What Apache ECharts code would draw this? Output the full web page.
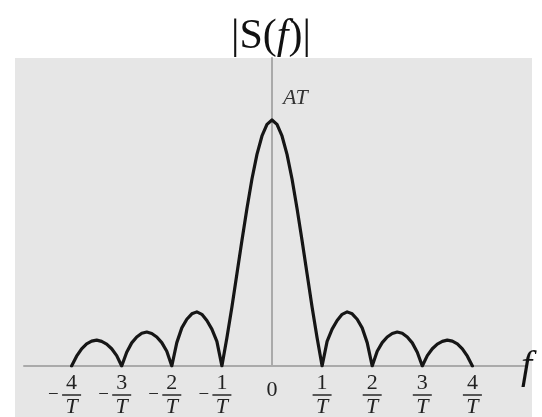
<!DOCTYPE html>
<html>
<head>
<meta charset="utf-8">
<script src="https://cdn.jsdelivr.net/npm/echarts@6/dist/echarts.min.js"></script>
<style>
html,body{margin:0;padding:0;background:#fff;}
#c{width:542px;height:417px;}
</style>
</head>
<body>
<div id="c"></div>
<script>
// Frequency samples (in units of 1/T)
const freqs = [
 -4.0,-3.9,-3.8,-3.7,-3.6,-3.5,-3.4,-3.3,-3.2,-3.1,
 -3.0,-2.9,-2.8,-2.7,-2.6,-2.5,-2.4,-2.3,-2.2,-2.1,
 -2.0,-1.9,-1.8,-1.7,-1.6,-1.5,-1.4,-1.3,-1.2,-1.1,
 -1.0,-0.9,-0.8,-0.7,-0.6,-0.5,-0.4,-0.3,-0.2,-0.1,
  0.0,
  0.1, 0.2, 0.3, 0.4, 0.5, 0.6, 0.7, 0.8, 0.9, 1.0,
  1.1, 1.2, 1.3, 1.4, 1.5, 1.6, 1.7, 1.8, 1.9, 2.0,
  2.1, 2.2, 2.3, 2.4, 2.5, 2.6, 2.7, 2.8, 2.9, 3.0,
  3.1, 3.2, 3.3, 3.4, 3.5, 3.6, 3.7, 3.8, 3.9, 4.0
];
// |S(f)| (peak AT = 1)
const magnitude = [
 0.000,0.040,0.070,0.090,0.101,0.105,0.100,0.089,0.070,0.042,
 0.000,0.056,0.094,0.118,0.133,0.138,0.132,0.118,0.095,0.060,
 0.000,0.095,0.155,0.190,0.212,0.220,0.210,0.185,0.150,0.100,
 0.000,0.115,0.240,0.375,0.510,0.640,0.760,0.860,0.935,0.982,
 1.000,
 0.982,0.935,0.860,0.760,0.640,0.510,0.375,0.240,0.115,0.000,
 0.100,0.150,0.185,0.210,0.220,0.212,0.190,0.155,0.095,0.000,
 0.060,0.095,0.118,0.132,0.138,0.133,0.118,0.094,0.056,0.000,
 0.042,0.070,0.089,0.100,0.105,0.101,0.090,0.070,0.040,0.000
];
const tickValues = [-4,-3,-2,-1,0,1,2,3,4];
const tickLabels = ['-4/T','-3/T','-2/T','-1/T','0','1/T','2/T','3/T','4/T'];
const titleText = '|S(f)|';
const peakLabel = 'AT';
const axisName = 'f';

const serif = '"Liberation Serif", "DejaVu Serif", serif';
const chart = echarts.init(document.getElementById('c'), null, {renderer:'canvas'});

function fmt(v){
  const i = tickValues.indexOf(Math.round(v));
  if (i < 0) return '';
  const s = tickLabels[i];
  if (s.indexOf('/') < 0) return '{zero|' + s + '}';
  const neg = s[0] === '-';
  const parts = s.replace('-', '').split('/');
  if (neg) {
    return '{sp| }{num|' + parts[0] + '}{sp| }\n{mi|\u2212}{bar| }{sp| }\n{sp| }{den|' + parts[1] + '}{sp| }';
  }
  return '{num|' + parts[0] + '}\n{bar| }\n{den|' + parts[1] + '}';
}

const option = {
  animation: false,
  backgroundColor: '#ffffff',
  title: {
    left: 'center',
    top: 8,
    text: '{a||S(}{b|f}{a|)|}',
    textStyle: {
      fontWeight: 'normal',
      rich: {
        a: {fontFamily: serif, fontSize: 42, fontWeight: 'normal', color: '#111', lineHeight: 48},
        b: {fontFamily: serif, fontSize: 42, fontWeight: 'normal', fontStyle: 'italic', color: '#111', lineHeight: 48}
      }
    }
  },
  graphic: [
    {type: 'rect', z: -10, silent: true, shape: {x: 15, y: 58, width: 517, height: 359}, style: {fill: '#e6e6e6'}},
    {type: 'text', z: 10, left: 283, top: 87, style: {text: peakLabel, font: 'italic 22px ' + serif, fill: '#333'}},
    {type: 'text', z: 10, left: 521, top: 347, style: {text: axisName, font: 'italic 40px ' + serif, fill: '#111'}}
  ],
  grid: {left: 24, right: 15, top: 58, bottom: 51, containLabel: false, outerBoundsMode: 'none'},
  xAxis: {
    type: 'value',
    min: -4.95,
    max: 5.09,
    axisLine: {show: true, onZero: true, lineStyle: {color: '#aaaaaa', width: 2}},
    axisTick: {show: false},
    splitLine: {show: false},
    axisLabel: {
      customValues: tickValues,
      showMinLabel: true,
      showMaxLabel: true,
      hideOverlap: false,
      margin: 8,
      formatter: fmt,
      rich: {
        num: {fontFamily: serif, fontSize: 22, color: '#222', width: 19, align: 'center', lineHeight: 18},
        den: {fontFamily: serif, fontSize: 22, fontStyle: 'italic', color: '#222', width: 19, align: 'center', lineHeight: 18},
        bar: {width: 19, height: 1.6, backgroundColor: '#333', fontSize: 4, lineHeight: 6},
        mi: {fontFamily: serif, fontSize: 19, color: '#222', width: 14, align: 'left', lineHeight: 6},
        sp: {width: 14, fontSize: 4, lineHeight: 6},
        zero: {fontFamily: serif, fontSize: 22, color: '#222', lineHeight: 32}
      }
    }
  },
  yAxis: {
    type: 'value',
    min: 0,
    max: 1.252,
    axisLine: {show: true, onZero: true, lineStyle: {color: '#aaaaaa', width: 2}},
    axisTick: {show: false},
    axisLabel: {show: false},
    splitLine: {show: false}
  },
  series: [{
    type: 'line',
    data: freqs.map((f, i) => [f, magnitude[i]]),
    showSymbol: false,
    smooth: false,
    lineStyle: {color: '#161616', width: 3.2, join: 'round', cap: 'round'},
    z: 5
  }]
};
chart.setOption(option);
</script>
</body>
</html>
